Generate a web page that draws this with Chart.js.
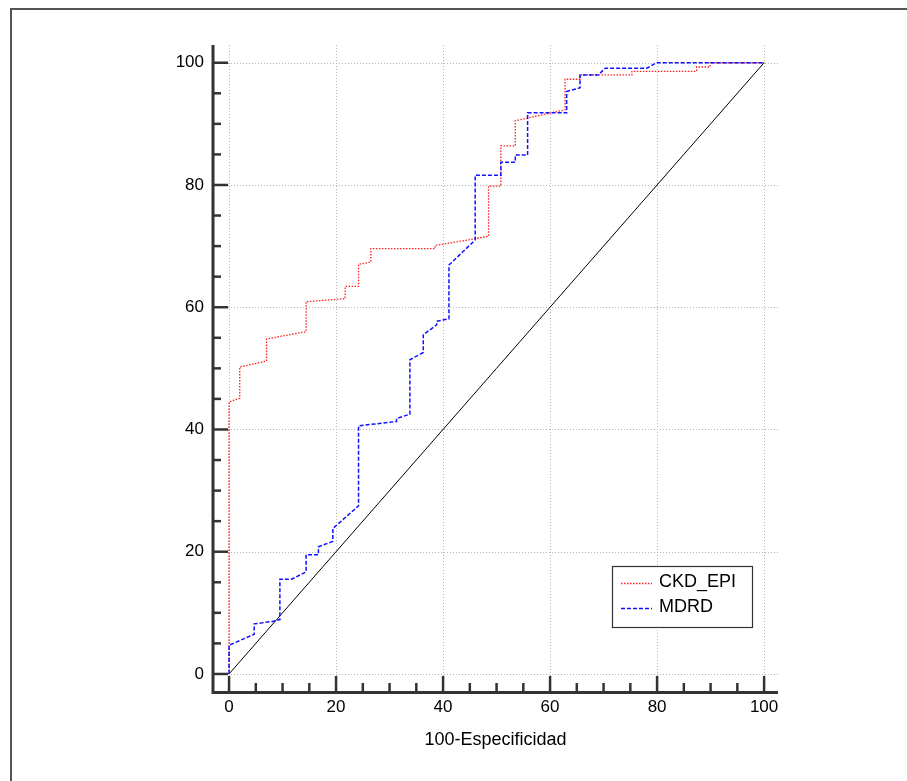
<!DOCTYPE html>
<html><head><meta charset="utf-8">
<script src="https://cdn.jsdelivr.net/npm/chart.js@4"></script>
<style>html,body{margin:0;padding:0;background:#fff;} canvas{display:block}</style>
</head><body>
<canvas id="c" width="907" height="781"></canvas>
<script>
// ---- data ----
const seriesNames = ['CKD_EPI', 'MDRD'];
const xTitle = '100-Especificidad';
const tickValues = [0, 20, 40, 60, 80, 100];
const minorStep = 5;

const ckdX = [0, 0, 2.0, 2.0, 7.0, 7.0, 14.4, 14.4, 21.7, 21.7, 24.2, 24.2, 26.5, 26.5, 38.5, 38.5, 48.5, 48.5, 50.8, 50.8, 53.5, 53.5, 62.8, 62.8, 65.6, 65.6, 75.3, 75.3, 87.4, 87.4, 89.9, 89.9, 100];
const ckdY = [0, 44.5, 45.1, 50.2, 51.2, 54.8, 56.0, 60.9, 61.4, 63.4, 63.4, 67.0, 67.4, 69.6, 69.6, 70.1, 71.6, 79.8, 79.8, 86.4, 86.4, 90.5, 92.3, 97.3, 97.3, 98.0, 98.0, 98.6, 98.6, 99.3, 99.3, 100, 100];

const mdrdX = [0, 0, 4.7, 4.7, 8.2, 9.5, 9.5, 11.7, 14.4, 14.4, 16.7, 16.7, 19.4, 19.4, 24.2, 24.2, 31.3, 31.3, 33.8, 33.8, 36.3, 36.3, 38.8, 38.8, 41.1, 41.1, 46.0, 46.0, 50.8, 50.8, 53.5, 53.5, 55.8, 55.8, 63.1, 63.1, 65.6, 65.6, 69.0, 70.3, 78.1, 79.9, 100];
const mdrdY = [0, 4.7, 6.5, 8.2, 8.6, 8.9, 15.5, 15.5, 16.7, 19.5, 19.5, 20.8, 21.7, 23.8, 27.5, 40.6, 41.3, 41.8, 42.5, 51.4, 52.6, 55.5, 57.1, 57.7, 58.1, 66.9, 71.0, 81.6, 81.6, 83.7, 83.7, 84.9, 84.9, 91.8, 91.8, 95.3, 95.9, 98.0, 98.0, 99.1, 99.1, 100, 100];

const refX = [0, 100];
const refY = [0, 100];

const toPts = (xs, ys) => xs.map((x, i) => ({x: x, y: ys[i]}));

const FONT = '"Liberation Sans", Arial, sans-serif';

const decorPlugin = {
  id: 'decor',
  beforeDraw(chart) {
    const ctx = chart.ctx;
    ctx.save();
    ctx.fillStyle = '#fff';
    ctx.fillRect(0, 0, chart.width, chart.height);
    ctx.strokeStyle = '#555';
    ctx.lineWidth = 2;
    ctx.beginPath();
    ctx.moveTo(11, chart.height);
    ctx.lineTo(11, 9);
    ctx.lineTo(chart.width, 9);
    ctx.stroke();
    ctx.restore();
  },
  beforeDatasetsDraw(chart) {
    const ctx = chart.ctx, xs = chart.scales.x, ys = chart.scales.y, a = chart.chartArea;
    ctx.save();
    // grid
    ctx.strokeStyle = '#b4b4b4';
    ctx.lineWidth = 1;
    ctx.setLineDash([1, 2]);
    tickValues.forEach(v => {
      const px = Math.round(xs.getPixelForValue(v)) + 0.5;
      ctx.beginPath(); ctx.moveTo(px, a.top); ctx.lineTo(px, a.bottom - 2); ctx.stroke();
      const py = Math.round(ys.getPixelForValue(v)) + 0.5;
      ctx.beginPath(); ctx.moveTo(xs.getPixelForValue(0) - 1, py); ctx.lineTo(a.right, py); ctx.stroke();
    });
    ctx.setLineDash([]);
    // axes
    ctx.strokeStyle = '#333';
    ctx.lineWidth = 3;
    const axX = a.left, axY = a.bottom - 1;
    ctx.beginPath(); ctx.moveTo(axX, a.top); ctx.lineTo(axX, axY + 1.5); ctx.lineTo(a.right, axY + 1.5); ctx.stroke();
    // ticks
    ctx.lineWidth = 2.5;
    for (let v = 0; v <= 100; v += minorStep) {
      const major = tickValues.includes(v);
      const py = ys.getPixelForValue(v);
      ctx.beginPath(); ctx.moveTo(axX, py); ctx.lineTo(major ? xs.getPixelForValue(0) - 1 : axX + 8, py); ctx.stroke();
      const px = xs.getPixelForValue(v);
      ctx.beginPath(); ctx.moveTo(px, axY); ctx.lineTo(px, major ? axY - 15 : axY - 8); ctx.stroke();
    }
    ctx.restore();
  },
  afterDatasetsDraw(chart) {
    const ctx = chart.ctx;
    ctx.save();
    const bx = 612.5, by = 566.5, bw = 140, bh = 61;
    ctx.fillStyle = '#fff';
    ctx.fillRect(bx, by, bw, bh);
    ctx.strokeStyle = '#333';
    ctx.lineWidth = 1.2;
    ctx.strokeRect(bx, by, bw, bh);
    const entries = [chart.data.datasets[1], chart.data.datasets[0]];
    const rowsY = [583.5, 608.5];
    entries.forEach((ds, i) => {
      ctx.strokeStyle = ds.borderColor;
      ctx.lineWidth = ds.borderWidth;
      ctx.setLineDash(ds.borderDash);
      ctx.beginPath(); ctx.moveTo(621, rowsY[i]); ctx.lineTo(652, rowsY[i]); ctx.stroke();
      ctx.setLineDash([]);
      ctx.fillStyle = '#000';
      ctx.font = '18px ' + FONT;
      ctx.textBaseline = 'middle';
      ctx.textAlign = 'left';
      ctx.fillText(ds.label, 659, rowsY[i] - 1);
    });
    ctx.restore();
  }
};

new Chart(document.getElementById('c'), {
  type: 'scatter',
  data: {
    datasets: [
      {label: seriesNames[1], data: toPts(mdrdX, mdrdY), showLine: true, borderColor: '#1010ff', borderWidth: 1.5, borderDash: [4, 2], pointRadius: 0, fill: false},
      {label: seriesNames[0], data: toPts(ckdX, ckdY), showLine: true, borderColor: '#ff2020', borderWidth: 1.3, borderDash: [1.5, 1.5], pointRadius: 0, fill: false},
      {label: 'ref', data: toPts(refX, refY), showLine: true, borderColor: '#000', borderWidth: 1, pointRadius: 0, fill: false}
    ]
  },
  options: {
    responsive: false,
    animation: false,
    devicePixelRatio: 1,
    layout: {padding: {top: 45, right: 129, bottom: 0, left: 0}},
    plugins: {legend: {display: false}, tooltip: {enabled: false}},
    scales: {
      x: {
        type: 'linear', min: -3, max: 102.6,
        afterBuildTicks: s => { s.ticks = tickValues.map(v => ({value: v})); },
        afterFit: s => { s.height = 89; },
        grid: {display: false, drawTicks: false},
        border: {display: false},
        ticks: {color: '#000', font: {family: FONT, size: 17}, padding: 5, maxRotation: 0, autoSkip: false, callback: v => String(v)},
        title: {display: true, text: xTitle, color: '#000', font: {family: FONT, size: 18}, padding: {top: 0, bottom: 30}}
      },
      y: {
        type: 'linear', min: -2.95, max: 102.9,
        afterBuildTicks: s => { s.ticks = tickValues.map(v => ({value: v})); },
        afterFit: s => { s.width = 213; },
        grid: {display: false, drawTicks: false},
        border: {display: false},
        ticks: {color: '#000', font: {family: FONT, size: 17}, padding: 9, autoSkip: false, callback: v => String(v)}
      }
    }
  },
  plugins: [decorPlugin]
});
</script>
</body></html>
